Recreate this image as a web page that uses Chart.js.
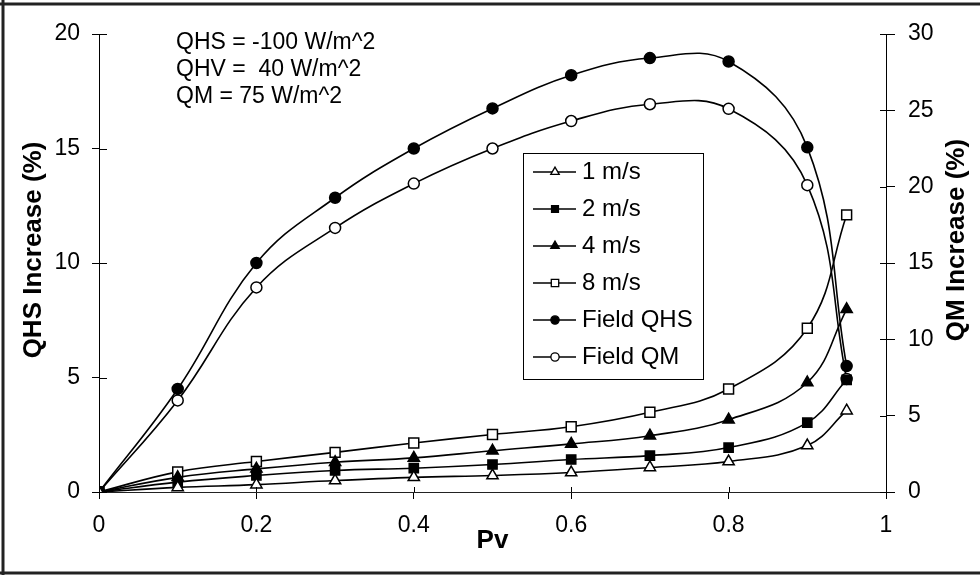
<!DOCTYPE html>
<html>
<head>
<meta charset="utf-8">
<script src="https://cdn.jsdelivr.net/npm/chart.js@4.4.1/dist/chart.umd.min.js"></script>
<style>
  html, body { margin: 0; padding: 0; background: #fff; }
  #wrap { position: relative; width: 980px; height: 575px; }
</style>
</head>
<body>
<div id="wrap"><canvas id="chart" width="980" height="575"></canvas></div>
<script>
// Pv values (x) shared by every series
const pv = [0, 0.1, 0.2, 0.3, 0.4, 0.5, 0.6, 0.7, 0.8, 0.9, 0.95];

// model runs, QHS increase (%), left axis
const wind1 = [0, 0.2, 0.32, 0.5, 0.64, 0.72, 0.85, 1.07, 1.33, 2.03, 3.55];
const wind2 = [0, 0.43, 0.72, 0.94, 1.04, 1.2, 1.42, 1.59, 1.94, 3.03, 4.9];
const wind4 = [0, 0.64, 1.01, 1.3, 1.49, 1.8, 2.1, 2.46, 3.16, 4.78, 7.98];
const wind8 = [0, 0.88, 1.33, 1.73, 2.14, 2.51, 2.85, 3.48, 4.5, 7.15, 12.1];

// field curves
const fieldQHS = [0, 4.5, 10, 12.85, 15, 16.75, 18.2, 18.95, 18.8, 15.05, 5.5];   // left axis
const fieldQM = [0, 6.0, 13.4, 17.3, 20.2, 22.5, 24.3, 25.4, 25.1, 20.1, 7.4];    // right axis

const xTicks = [0, 0.2, 0.4, 0.6, 0.8, 1];
const leftTicks = [0, 5, 10, 15, 20];
const rightTicks = [0, 5, 10, 15, 20, 25, 30];

const notes = ['QHS = -100 W/m^2', 'QHV =  40 W/m^2', 'QM = 75 W/m^2'];
const leftTitle = 'QHS Increase (%)';
const rightTitle = 'QM Increase (%)';

const FONT = '"Liberation Sans", Arial, Helvetica, sans-serif';

const series = [
  { label: '1 m/s', data: wind1, shape: 'triangle', filled: false, r: 6.5, axis: 'y' },
  { label: '2 m/s', data: wind2, shape: 'rect', filled: true, r: 6.5, axis: 'y' },
  { label: '4 m/s', data: wind4, shape: 'triangle', filled: true, r: 6.5, axis: 'y' },
  { label: '8 m/s', data: wind8, shape: 'rect', filled: false, r: 7, axis: 'y' },
  { label: 'Field QHS', data: fieldQHS, shape: 'circle', filled: true, r: 5.5, axis: 'y' },
  { label: 'Field QM', data: fieldQM, shape: 'circle', filled: false, r: 5.5, axis: 'y2' },
];

const datasets = series.map(s => ({
  label: s.label,
  data: pv.map((x, i) => ({ x, y: s.data[i] })),
  yAxisID: s.axis,
  borderColor: '#000',
  borderWidth: 1.6,
  backgroundColor: s.filled ? '#000' : '#fff',
  pointBackgroundColor: s.filled ? '#000' : '#fff',
  pointBorderColor: '#000',
  pointBorderWidth: 1.5,
  pointStyle: s.shape,
  pointRadius: s.r,
  tension: 0.4,
  fill: false,
}));

// frame, inner tick halves, axis titles, note text and boxed legend
const extras = {
  id: 'extras',
  afterDraw(chart) {
    const ctx = chart.ctx;
    const { x, y, y2 } = chart.scales;
    ctx.save();

    // scanned page frame
    ctx.strokeStyle = '#222';
    ctx.lineWidth = 3;
    ctx.beginPath();
    ctx.moveTo(0, 4); ctx.lineTo(980, 4);
    ctx.moveTo(3, 0); ctx.lineTo(3, 575);
    ctx.moveTo(0, 573); ctx.lineTo(980, 573);
    ctx.stroke();

    // tick marks cross the axes
    ctx.strokeStyle = '#000';
    ctx.lineWidth = 1;
    ctx.beginPath();
    leftTicks.forEach(v => { const p = Math.round(y.getPixelForValue(v)) + 0.5; ctx.moveTo(y.right, p); ctx.lineTo(y.right + 8, p); });
    rightTicks.forEach(v => { const p = Math.round(y2.getPixelForValue(v)) + 0.5; ctx.moveTo(y2.left, p); ctx.lineTo(y2.left - 6, p); });
    xTicks.forEach(v => { const p = Math.round(x.getPixelForValue(v)) + 0.5; ctx.moveTo(p, x.top); ctx.lineTo(p, x.top - 5); });
    ctx.stroke();

    // vertical axis titles, both read bottom to top
    ctx.fillStyle = '#000';
    ctx.font = 'bold 26px ' + FONT;
    ctx.textAlign = 'center';
    ctx.textBaseline = 'middle';
    [[34, 250, leftTitle], [957, 240, rightTitle]].forEach(([tx, ty, t]) => {
      ctx.save();
      ctx.translate(tx, ty);
      ctx.rotate(-Math.PI / 2);
      ctx.fillText(t, 0, 0);
      ctx.restore();
    });

    // notes
    ctx.font = '23px ' + FONT;
    ctx.textAlign = 'left';
    notes.forEach((t, i) => ctx.fillText(t, 176, 43 + i * 27));

    // legend
    ctx.lineWidth = 1;
    ctx.strokeRect(523.5, 153.5, 180, 226);
    chart.data.datasets.forEach((ds, i) => {
      const ly = 172 + i * 37;
      ctx.strokeStyle = '#000';
      ctx.lineWidth = 1.6;
      ctx.beginPath();
      ctx.moveTo(533, ly); ctx.lineTo(576, ly);
      ctx.stroke();
      ctx.fillStyle = ds.pointBackgroundColor;
      ctx.lineWidth = 1.3;
      Chart.helpers.drawPoint(ctx, { pointStyle: ds.pointStyle, radius: ds.pointRadius * 0.75, borderWidth: 1.3, rotation: 0 }, 555, ly);
      ctx.fillStyle = '#000';
      ctx.font = '24px ' + FONT;
      ctx.fillText(ds.label, 582, ly);
    });
    ctx.restore();
  }
};

const tickFont = { family: FONT, size: 23 };
const titleFont = { family: FONT, size: 26, weight: 'bold' };

new Chart(document.getElementById('chart'), {
  type: 'line',
  data: { datasets },
  plugins: [extras],
  options: {
    responsive: false,
    animation: false,
    layout: { padding: { top: 34, left: 0, right: 0, bottom: 0 } },
    plugins: { legend: { display: false }, tooltip: { enabled: false } },
    scales: {
      x: {
        type: 'linear', min: 0, max: 1,
        afterBuildTicks: s => { s.ticks = xTicks.map(v => ({ value: v })); },
        afterFit: s => { s.height = 83; },
        ticks: { color: '#000', font: tickFont, padding: 13, maxRotation: 0, callback: v => String(v) },
        grid: { drawOnChartArea: false, drawTicks: true, tickLength: 7, color: '#000' },
        border: { display: true, color: '#222', width: 1 },
        title: { display: true, text: 'Pv', color: '#000', font: titleFont, padding: { top: 0, bottom: 19 } },
      },
      y: {
        position: 'left', min: 0, max: 20,
        afterBuildTicks: s => { s.ticks = leftTicks.map(v => ({ value: v })); },
        afterFit: s => { s.width = 99; },
        ticks: { color: '#000', font: tickFont, padding: 12 },
        grid: { drawOnChartArea: false, drawTicks: true, tickLength: 7, color: '#000' },
        border: { display: true, color: '#000', width: 1 },
        title: { display: false },
      },
      y2: {
        position: 'right', min: 0, max: 30,
        afterBuildTicks: s => { s.ticks = rightTicks.map(v => ({ value: v })); },
        afterFit: s => { s.width = 94; },
        ticks: { color: '#000', font: tickFont, padding: 13 },
        grid: { drawOnChartArea: false, drawTicks: true, tickLength: 9, color: '#000' },
        border: { display: true, color: '#000', width: 1 },
        title: { display: false },
      },
    },
  },
});
</script>
</body>
</html>
